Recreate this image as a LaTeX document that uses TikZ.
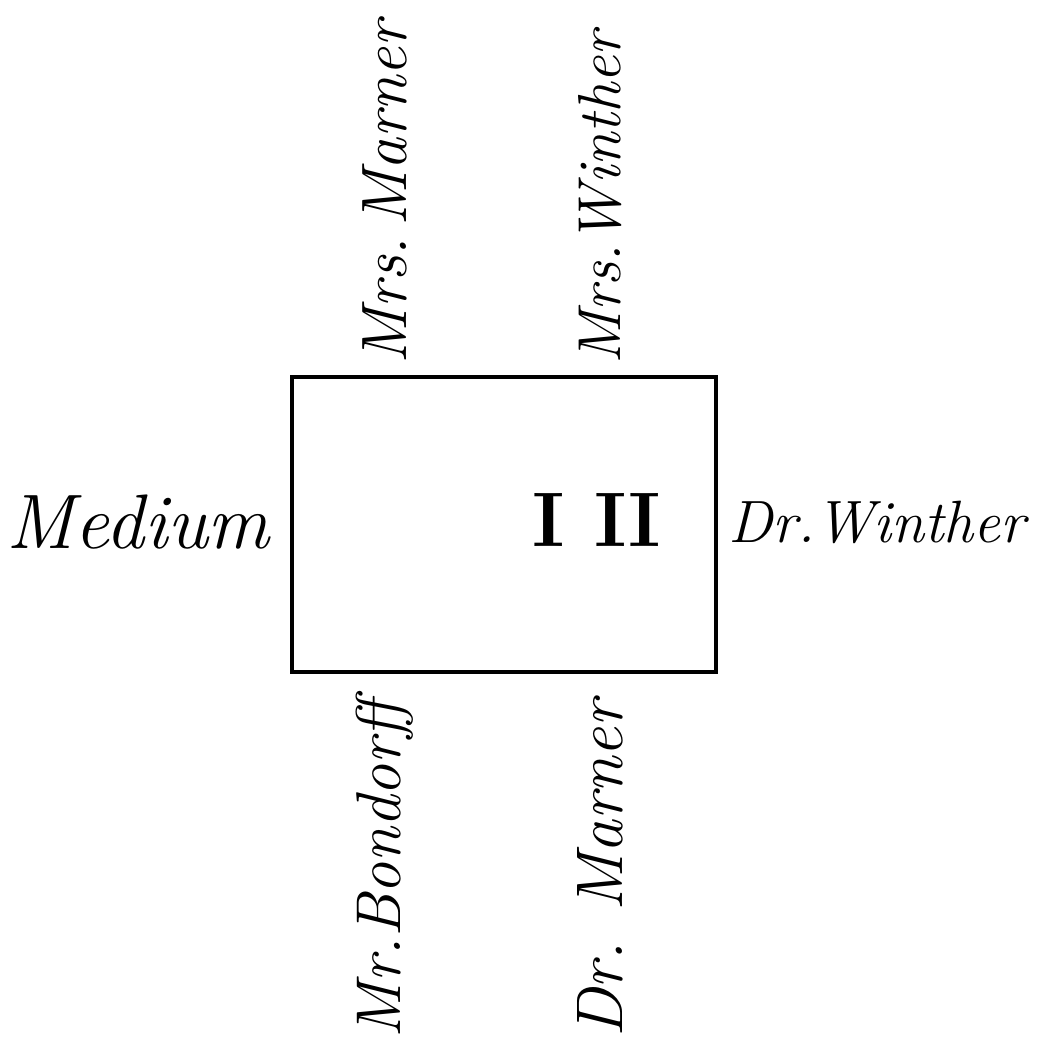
\documentclass[tikz,border=0pt]{standalone}
\usetikzlibrary{positioning}

\begin{document}
\begin{tikzpicture}[x=0.02cm, y=-0.02cm,
    room/.style={draw, line width=2.2pt, minimum width=8.48cm, minimum height=5.9cm,
      inner sep=0pt, anchor=north west},
    guest/.style={font=\fontsize{#1}{#1}\selectfont\itshape, inner sep=0pt},
    guest/.default=36,
    vguest/.style={guest=#1, rotate=90},
    vguest/.default=36
  ]
  \useasboundingbox (0,0) rectangle (1041,1051);
  \node[room] (room) at (290,375) {};
  \node[font=\fontsize{44}{48}\selectfont\bfseries, inner sep=0pt] (beds) at (597,520) {I II};
  \node[vguest=36.5, anchor=west] (mrsmarner)  at (385,365) {Mrs.\,Marner};
  \node[vguest=34.5, anchor=west] (mrswinther) at (600,365) {Mrs.Winther};
  \node[guest=44, anchor=east]    (medium)     at (270,522) {Medium};
  \node[guest=34, anchor=west]    (drwinther)  at (728,522) {Dr.Winther};
  \node[vguest=36, anchor=east]   (bondorff)   at (385,700) {Mr.Bondorff};
  \node[vguest=37.5, anchor=east] (drmarner)   at (600,700) {Dr. Marner};
\end{tikzpicture}
\end{document}
